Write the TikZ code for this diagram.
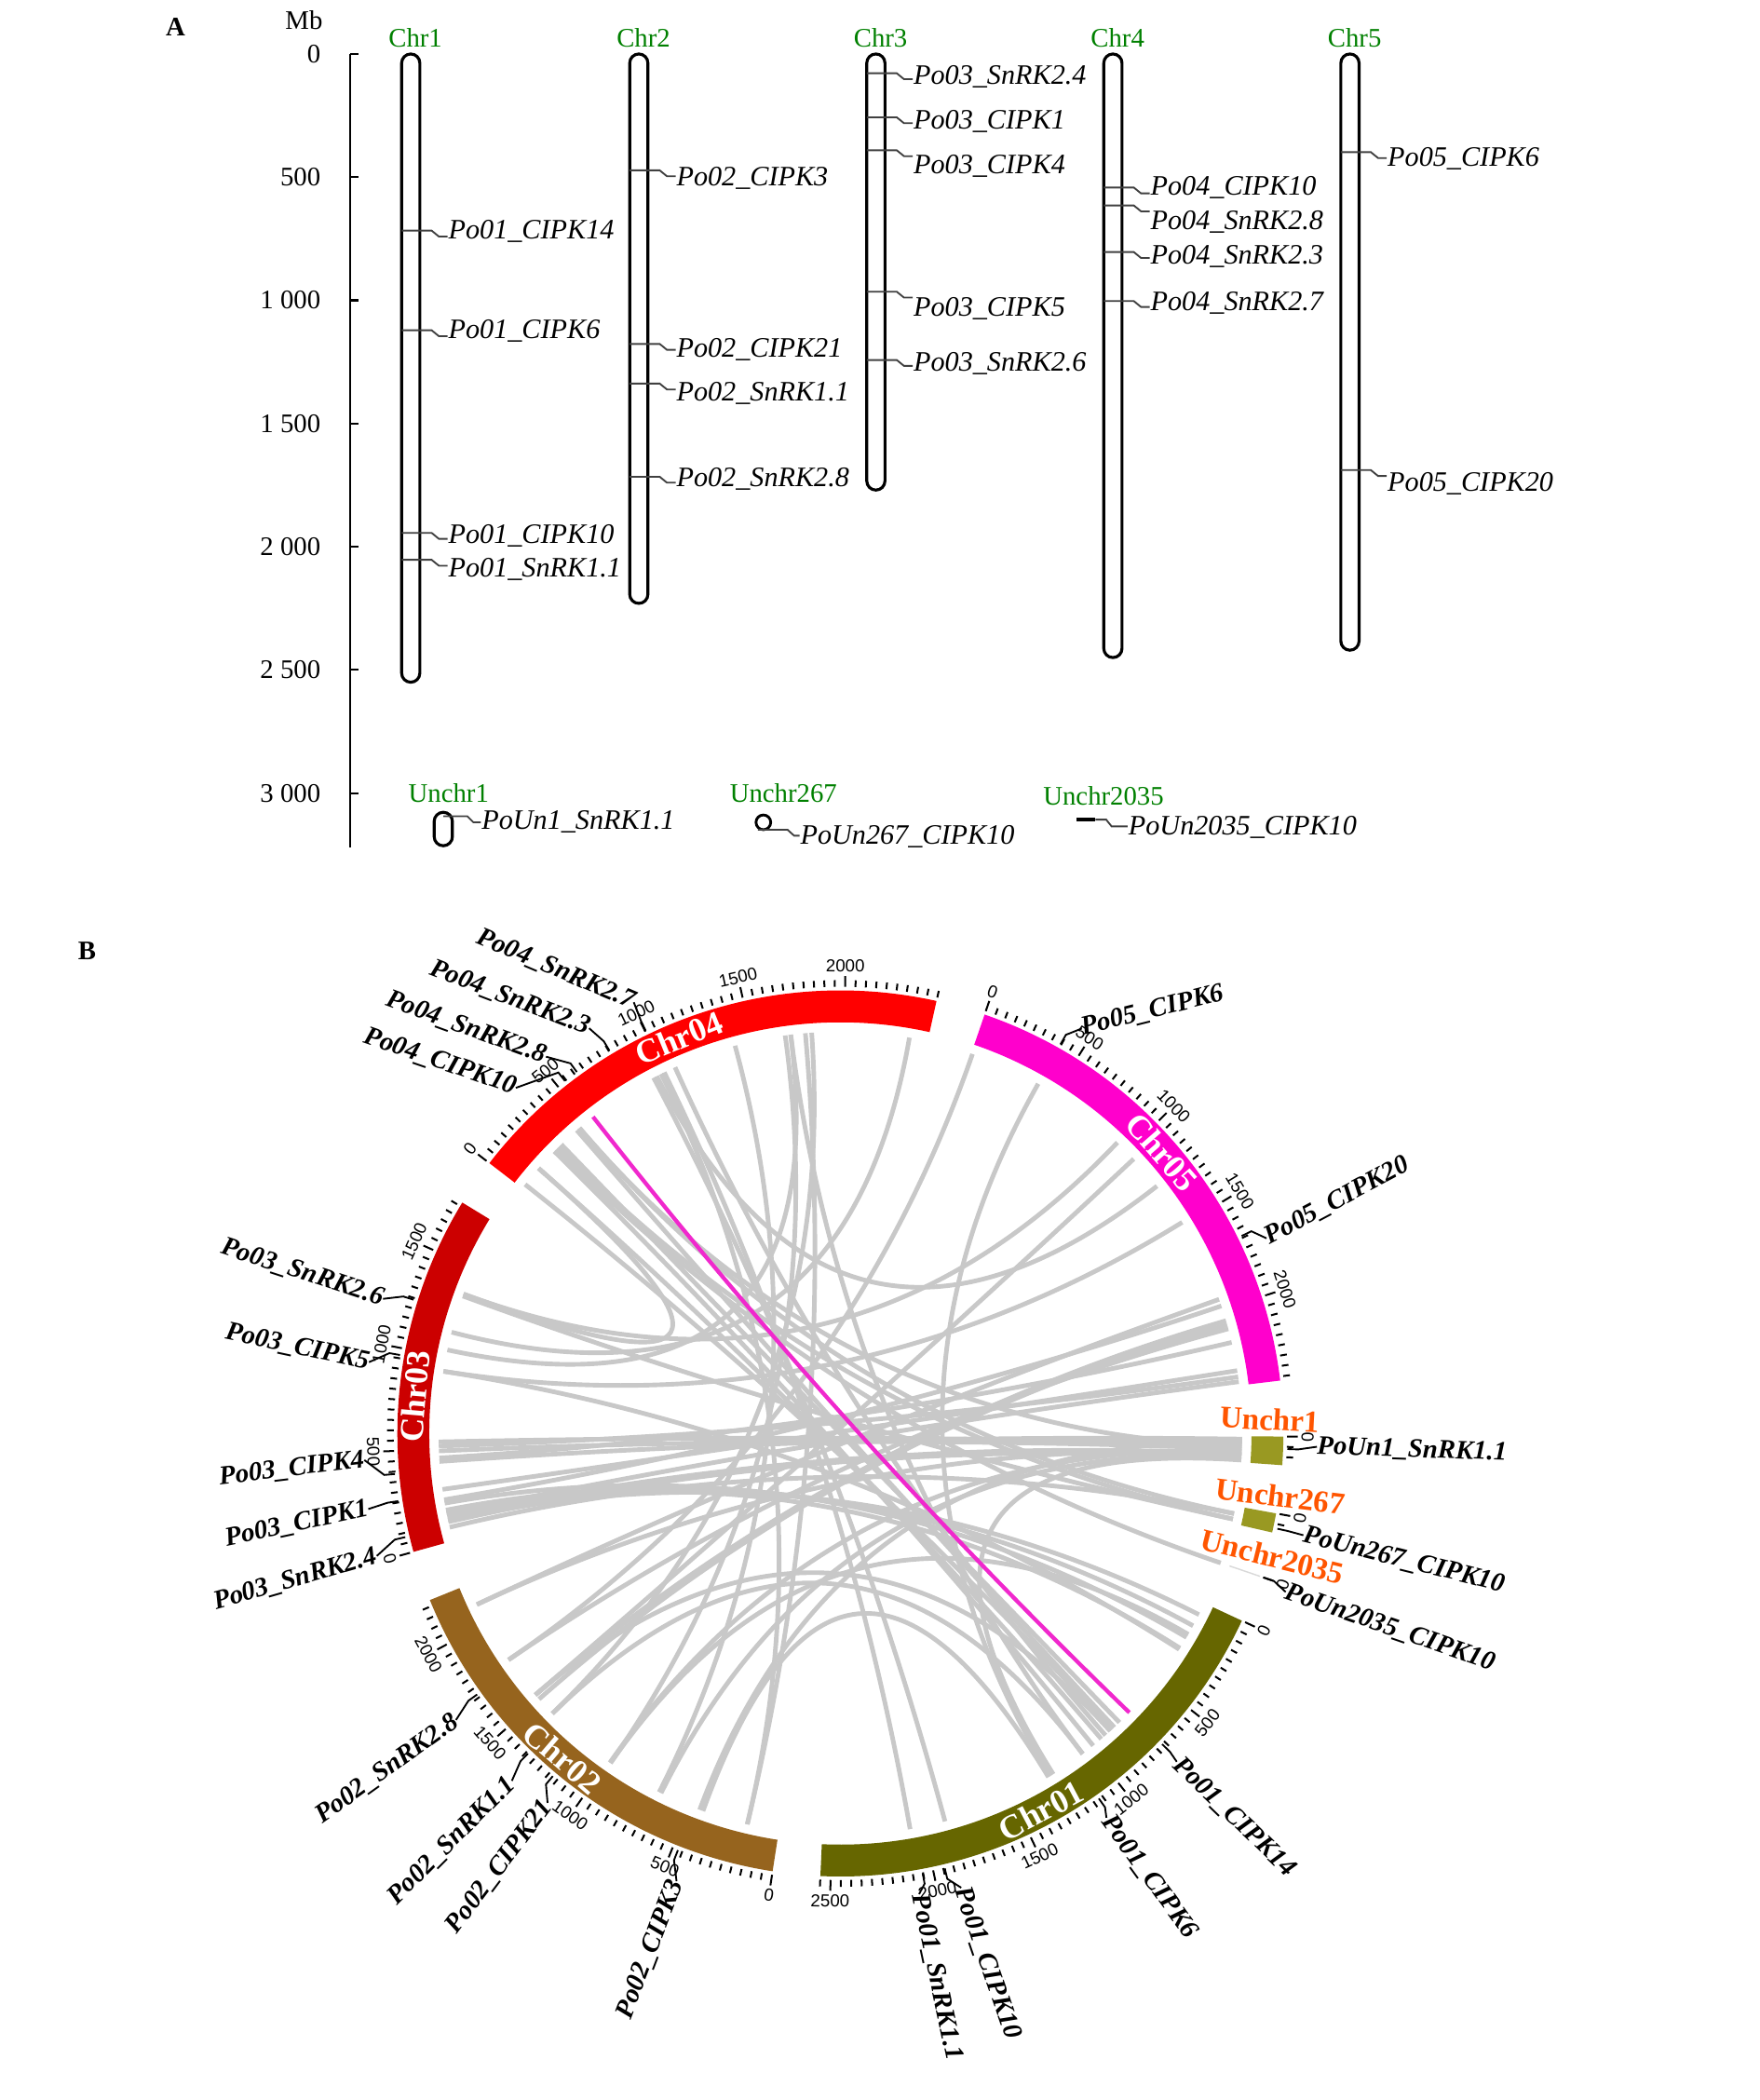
\documentclass[tikz,border=0pt]{standalone}
\usepackage{fontspec}
\setmainfont{Liberation Serif}
\setsansfont{Liberation Sans}
\usetikzlibrary{positioning}

\definecolor{chrgreen}{RGB}{0,128,0}
\definecolor{cOne}{RGB}{102,102,0}
\definecolor{cTwo}{RGB}{150,100,30}
\definecolor{cThree}{RGB}{204,0,0}
\definecolor{cFour}{RGB}{255,0,0}
\definecolor{cFive}{RGB}{255,0,204}
\definecolor{cUn}{RGB}{153,153,34}
\definecolor{linkgray}{RGB}{200,200,200}
\definecolor{linkpink}{RGB}{240,40,205}
\definecolor{unorange}{RGB}{255,85,0}

\tikzset{
  chrom/.style={draw=black, line width=2.2pt, rounded corners=6.8pt},
  genemark/.style={draw=black!75, line width=1.3pt},
  genelab/.style={font=\fontsize{21}{24}\selectfont\itshape, inner sep=0pt, anchor=base west},
  axislab/.style={font=\fontsize{20}{24}\selectfont, inner sep=0pt, anchor=east},
  chrlab/.style={font=\fontsize{20}{24}\selectfont, text=chrgreen, inner sep=0pt, anchor=base},
  panel/.style={font=\fontsize{20}{24}\selectfont\bfseries, inner sep=0pt},
  synlink/.style={draw=linkgray, line width=3.4pt},
  tickline/.style={draw=black, line width=1.4pt},
  ticklab/.style={font=\sffamily\fontsize{13}{15}\selectfont, inner sep=0pt},
  ringlab/.style={font=\fontsize{25}{28}\selectfont\bfseries, text=white, inner sep=0pt},
  unlab/.style={font=\fontsize{23}{26}\selectfont\bfseries, text=unorange, inner sep=0pt},
  circlab/.style={font=\fontsize{20}{23}\selectfont\bfseries\itshape, inner sep=0pt},
}

\begin{document}
\begin{tikzpicture}[x=1pt, y=-1pt]
    \useasboundingbox (0,0) rectangle (1314,1568);

    % ---------- A: physical map ----------
    \node [panel] (pA) at (131,20) {A};
    \node [font=\fontsize{20}{24}\selectfont, anchor=base] (mb) at (227,22) {Mb};

    \draw [line width=1.5pt] (261.5,40.3) -- (261.5,633);
    \foreach \v/\lab in {0/0,500/500,1000/1 000,1500/1 500,2000/2 000,2500/2 500,3000/3 000} {
        \pgfmathsetmacro\yt{40.3+\v*0.18396}
        \draw [line width=1.5pt] (261.5,\yt) -- (267.5,\yt);
        \node [axislab] (ax\v) at (239.5,\yt) {\lab};
    }

    \foreach \n/\cx/\len in {1/306.7/2550,2/477/2230,3/654/1770,4/831/2450,5/1008/2420} {
        \draw [chrom] (\cx-6.8,40.3) rectangle (\cx+6.8,{40.3+\len*0.18396});
        \node [chrlab] (chr\n) at (\cx+3.5,34.8) {Chr\n};
    }

    \foreach \cx/\my/\by/\txt [count=\i] in {
        306.7/172.2/178.4/Po01\_CIPK14, 306.7/246.6/252.6/Po01\_CIPK6,
        306.7/397.9/406/Po01\_CIPK10, 306.7/418/431/Po01\_SnRK1.1,
        477/127.2/139/Po02\_CIPK3, 477/256.8/266.5/Po02\_CIPK21,
        477/286.4/299/Po02\_SnRK1.1, 477/356/363.5/Po02\_SnRK2.8,
        654/54.7/62.6/Po03\_SnRK2.4, 654/87.6/96.2/Po03\_CIPK1,
        654/112.2/129.8/Po03\_CIPK4, 654/217.8/236.4/Po03\_CIPK5,
        654/268.8/277/Po03\_SnRK2.6,
        831/140/146/Po04\_CIPK10, 831/153.4/171.5/Po04\_SnRK2.8,
        831/188.2/197/Po04\_SnRK2.3, 831/224.8/231.7/Po04\_SnRK2.7,
        1008/113.6/124/Po05\_CIPK6, 1008/351/367/Po05\_CIPK20} {
        \draw [genemark] (\cx-6.8,\my) -- (\cx+15.6,\my) -- (\cx+21,\my+4.4) -- (\cx+27.5,\my+4.4);
        \node [genelab] (gA\i) at (\cx+28,\by) {\txt};
    }

    % unplaced scaffolds
    \node [chrlab] (un1) at (335,599) {Unchr1};
    \node [chrlab] (un267) at (585,599) {Unchr267};
    \node [chrlab] (un2035) at (824,601.4) {Unchr2035};
    \draw [chrom] (324.2,606.5) rectangle (337.8,631.5);
    \draw [line width=2pt] (570,614) circle [radius=5.5];
    \draw [line width=3.2pt] (804,612) -- (818,612);
    \draw [genemark] (331,609.5) -- (349,609.5) -- (353.5,614) -- (359,614);
    \node [genelab] (gU1) at (359.5,619) {PoUn1\_SnRK1.1};
    \draw [genemark] (566,619.5) -- (588,619.5) -- (593,624) -- (597,624);
    \node [genelab] (gU267) at (597.5,630.5) {PoUn267\_CIPK10};
    \draw [genemark] (818,612) -- (826,612) -- (830,617) -- (842,617);
    \node [genelab] (gU2035) at (842.5,623.5) {PoUn2035\_CIPK10};

    % ---------- B: circos ----------
    \node [panel] (pB) at (65,710) {B};

    \begin{scope}[shift={(627.5,1070.3)}]
        % links
        \foreach \a/\b in {218.3/47.5, 221.3/49.5, 224.6/51.0, 226.0/46.0, 229.0/47.0,
            167.5/26.8, 169.0/28.6, 170.0/30.5, 168.6/32.3,
            229.5/11.5, 225.5/12.3, 242.3/74.9, 243.5/103.4, 245.7/48.7, 254.8/116.8,
            262.1/124.9, 262.9/52.9, 265.9/135.8, 279.9/194.6, 289.2/145.7, 299.5/58.5,
            313.6/200.3, 322.0/242.8, 316.9/139.4, 328.3/188.9, 340.5/154.8, 343.7/139.4,
            344.3/138.6, 346.9/176.5, 351.9/178.2, 352.6/168.5, 0.8/176.0, 1.5/178.8,
            2.2/177.5, 3.0/168.0, 3.6/167.3, 2.6/125.0, 3.3/116.5, 3.8/58.0, 1.8/229.5,
            1.2/110.5, 11.5/166.5, 12.3/200.0, 18.8/225.0, 200.3/221.3,
            188.9/32.5, 135.8/52.9, 103.4/265.0, 124.9/30.0, 145.7/344.9, 154.8/2.8,
            139.4/47.8, 110.0/58.8, 192.0/262.9, 170.5/341.5, 172.0/351.0, 80.0/244.0} {
            \draw [synlink] (\a:300) .. controls (\a:100) and (\b:100) .. (\b:300);
        }
        \draw [linkpink, line width=3pt] (232.0:300) .. controls (232.0:100) and (44.0:100) .. (44.0:300);

        % ideogram
        \foreach \s/\len/\col in {25.0/2550/cOne, 98.8/2230/cTwo, 164.5/1770/cThree,
            217.6/2450/cFour, 289.0/2420/cFive, 360.4/140/cUn, 10.4/95/cUn} {
            \pgfmathsetmacro\en{\s+\len*0.0265}
            \fill [\col] (\s:307) arc [start angle=\s, end angle=\en, radius=307]
                -- (\en:330.8) arc [start angle=\en, end angle=\s, radius=330.8] -- cycle;
        }
        \draw [black!15, line width=1pt] (18.8:307) -- (18.8:331);

        % scale
        \foreach \s/\len [count=\c] in {25.0/2550, 98.8/2230, 164.5/1770, 217.6/2450,
            289.0/2420, 360.4/140, 10.4/95} {
            \foreach \v in {0,50,...,\len} {
                \pgfmathsetmacro\tang{\s+\v*0.0265}
                \pgfmathtruncatemacro\ismaj{mod(\v,500)==0}
                \ifnum\ismaj=1
                    \draw [tickline] (\tang:333.5) -- (\tang:341.5);
                    \pgfmathsetmacro\rotA{mod(720-\tang,180)-90}
                    \node [ticklab, rotate=\rotA] (tl\c-\v) at (\tang:349) {\v};
                \else
                    \draw [tickline] (\tang:333.5) -- (\tang:338.5);
                \fi
            }
        }
        \draw [tickline] (18.8:333.5) -- (18.8:341.5);
        \node [ticklab, rotate=-108.8] (tl8-0) at (18.8:349) {0};

        % chromosome names
        \foreach \a/\txt in {62/Chr01, 130.6/Chr02, 185/Chr03, 247.8/Chr04, 318.8/Chr05} {
            \pgfmathsetmacro\rotA{mod(720-\a,180)-90}
            \node [ringlab, rotate=\rotA] (ring\txt) at (\a:319) {\txt};
        }
        \node [unlab, rotate=-3] (lUn1) at (320.5,-10.3) {Unchr1};
        \node [unlab, rotate=-7] (lUn267) at (328.5,46.7) {Unchr267};
        \node [unlab, rotate=-14] (lUn2035) at (322.5,91.7) {Unchr2035};

        % gene labels
        \foreach \m/\la/\lr/\an/\rotA/\txt [count=\i] in {
            44.0/44.3/351/west/-44/Po01\_CIPK14, 54.7/55.3/349/west/-54/Po01\_CIPK6,
            76.5/75.1/351/west/-71/Po01\_CIPK10, 79.4/80.3/349/west/-78/Po01\_SnRK1.1,
            111.3/110.1/356/east/69/Po02\_CIPK3, 130.0/128.4/352/east/53/Po02\_CIPK21,
            134.3/133.4/357/east/45/Po02\_SnRK1.1, 144.3/143.3/358/east/35.5/Po02\_SnRK2.8,
            166.6/165.2/358/east/16/Po03\_SnRK2.4, 171.3/170.9/357/east/12/Po03\_CIPK1,
            174.8/176.8/356/east/7/Po03\_CIPK4, 190.1/188.6/356/east/-12/Po03\_CIPK5,
            197.4/196.4/356/east/-18/Po03\_SnRK2.6,
            232.0/226.8/354/east/-19/Po04\_CIPK10, 233.9/232.0/357/east/-20/Po04\_SnRK2.8,
            238.9/238.2/356/east/-21/Po04\_SnRK2.3, 244.2/244.4/357/east/-23/Po04\_SnRK2.7,
            299.5/300.8/352/west/14/Po05\_CIPK6, 333.8/335.4/350/west/28/Po05\_CIPK20,
            2.0/1.6/356/west/-2/PoUn1\_SnRK1.1, 12.3/12.4/354/west/-14/PoUn267\_CIPK10,
            18.8/19.6/353/west/-19/PoUn2035\_CIPK10} {
            \node [circlab, anchor=\an, rotate=\rotA] (gB\i) at (\la:\lr) {\txt};
            \draw [line width=1.3pt] (\m:334) -- (\m:342) -- (gB\i.\an);
        }
    \end{scope}
\end{tikzpicture}
\end{document}
